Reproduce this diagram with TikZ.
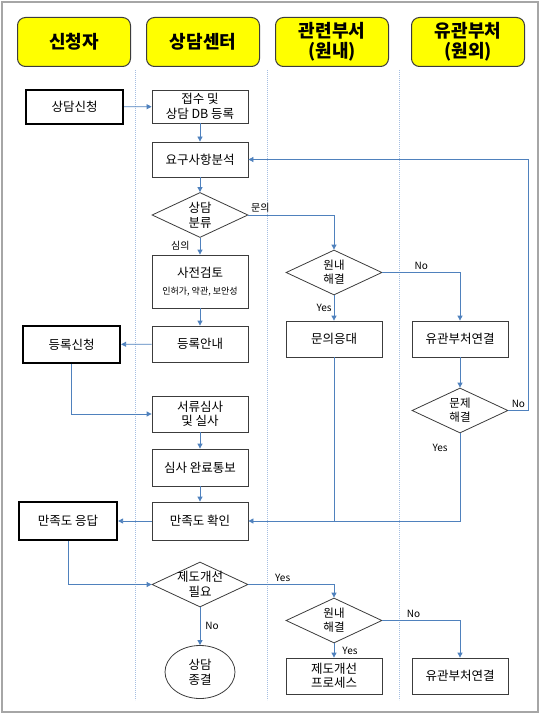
\documentclass[tikz,border=0pt]{standalone}
\usepackage{fontspec}
\setmainfont{Noto Sans CJK KR}
\usetikzlibrary{shapes.geometric, arrows.meta}
\definecolor{flowblue}{RGB}{79,129,189}
\definecolor{laneline}{RGB}{165,190,225}
\definecolor{headyellow}{RGB}{255,255,0}
\definecolor{boxline}{RGB}{60,60,60}

\begin{document}
\begin{tikzpicture}[x=1pt, y=-1pt,
    head/.style={draw=boxline, line width=1pt, fill=headyellow, rounded corners=8pt,
      minimum width=113pt, minimum height=49pt, align=center,
      font=\fontsize{18}{20}\selectfont\bfseries},
    proc/.style={draw=boxline, line width=0.8pt, fill=white, minimum width=96pt,
      minimum height=36pt, inner sep=1pt, align=center,
      font=\fontsize{12.5}{14.5}\selectfont},
    actor/.style={proc, draw=black, line width=2.2pt, minimum width=97pt},
    dec/.style={draw=boxline, line width=0.8pt, fill=white, diamond,
      minimum width=96pt, minimum height=45pt, inner sep=0pt},
    dectext/.style={align=center, inner sep=0pt, font=\fontsize{11.5}{14}\selectfont},
    flow/.style={draw=flowblue, line width=0.8pt, -{Triangle[width=5pt,length=5pt]}},
    lbl/.style={font=\fontsize{10}{12}\selectfont, inner sep=2pt},
    lane/.style={draw=laneline, line width=0.7pt, dash pattern=on 0.8pt off 1.2pt}]
  \useasboundingbox (0,0) rectangle (540,714);
  \draw[gray!70, line width=1.2pt] (2,2) rectangle (538,712);

  % 구역 제목
  \node[head] (h1) at (74,42) {신청자};
  \node[head] (h2) at (203,42) {상담센터};
  \node[head] (h3) at (332,42) {관련부서\\(원내)};
  \node[head] (h4) at (468,42) {유관부처\\(원외)};
  \foreach \x in {135,267,399}
    \draw[lane] (\x,70) -- (\x,700);

  % 신청자
  \node[actor, minimum height=34pt] (apply) at (74.5,107) {상담신청};
  \node[actor, minimum height=37pt] (regapp) at (71.5,344.5) {등록신청};
  \node[actor, minimum height=38pt, minimum width=98pt] (satans) at (68,521) {만족도 응답};

  % 상담센터
  \node[proc, minimum height=33pt] (recv) at (200,106.5) {접수 및\\상담 DB 등록};
  \node[proc, minimum height=35pt] (anal) at (200,159.5) {요구사항분석};
  \node[dec, label={[dectext, font=\fontsize{12.5}{15}\selectfont]center:상담\\분류}] (cls) at (200,215) {};
  \node[proc, minimum height=53pt] (prerev) at (200,281.5)
    {사전검토\\[3pt]{\fontsize{9}{10}\selectfont 인허가, 약관, 보안성}};
  \node[proc] (guide) at (200,344) {등록안내};
  \node[proc] (docrev) at (200,414) {서류심사\\및 실사};
  \node[proc, minimum height=37pt] (done) at (200,467.5) {심사 완료통보};
  \node[proc, minimum height=38pt] (satchk) at (200,521) {만족도 확인};
  \node[dec, label={[dectext, font=\fontsize{12.5}{15}\selectfont]center:제도개선\\필요}] (impr) at (200,584.5) {};
  \node[draw=boxline, line width=0.8pt, ellipse, minimum width=70pt, minimum height=53pt,
    align=center, font=\fontsize{12.5}{15}\selectfont] (fin) at (200,672) {상담\\종결};

  % 관련부서 (원내)
  \node[dec, label={[dectext]center:원내\\해결}] (inres1) at (334,272.5) {};
  \node[proc] (answer) at (334,339) {문의응대};
  \node[dec, label={[dectext]center:원내\\해결}] (inres2) at (334,620.5) {};
  \node[proc] (imprproc) at (334,676) {제도개선\\프로세스};

  % 유관부처 (원외)
  \node[proc] (ext1) at (460,339) {유관부처연결};
  \node[dec, label={[dectext]center:문제\\해결}] (solved) at (460,410.5) {};
  \node[proc] (ext2) at (460,676) {유관부처연결};

  % 흐름
  \draw[flow] (apply) -- (recv);
  \draw[flow] (recv) -- (anal);
  \draw[flow] (anal) -- (cls);
  \draw[flow] (cls) -- node[lbl, left=8pt] (l1) {심의} (prerev);
  \draw[flow] (cls.east) -| node[lbl, above, pos=0.07] (l2) {문의} (inres1.north);
  \draw[flow] (inres1) -- node[lbl, left] (l3) {Yes} (answer);
  \draw[flow] (inres1.east) -| node[lbl, above, pos=0.25] (l4) {No} (ext1.north);
  \draw[flow] (ext1) -- (solved);
  \draw[flow] (solved.east) -- node[lbl, above] (l5) {No} ++(20,0) |- (anal.east);
  \draw[flow] (solved.south) |- node[lbl, left=10pt, pos=0.08] (l6) {Yes} (satchk.east);
  \draw[flowblue, line width=0.8pt] (answer.south) -- (answer.south |- satchk.east);
  \draw[flow] (prerev) -- (guide);
  \draw[flow] (guide) -- (regapp);
  \draw[flow] (regapp.south) |- (docrev.west);
  \draw[flow] (docrev) -- (done);
  \draw[flow] (done) -- (satchk);
  \draw[flow] (satchk) -- (satans);
  \draw[flow] (satans.south) |- (impr.west);
  \draw[flow] (impr) -- node[lbl, right=3pt] (l7) {No} (fin);
  \draw[flow] (impr.east) -| node[lbl, above, pos=0.2] (l8) {Yes} (inres2.north);
  \draw[flow] (inres2) -- node[lbl, right=6pt] (l9) {Yes} (imprproc);
  \draw[flow] (inres2.east) -| node[lbl, above, pos=0.2] (l10) {No} (ext2.north);
\end{tikzpicture}
\end{document}
